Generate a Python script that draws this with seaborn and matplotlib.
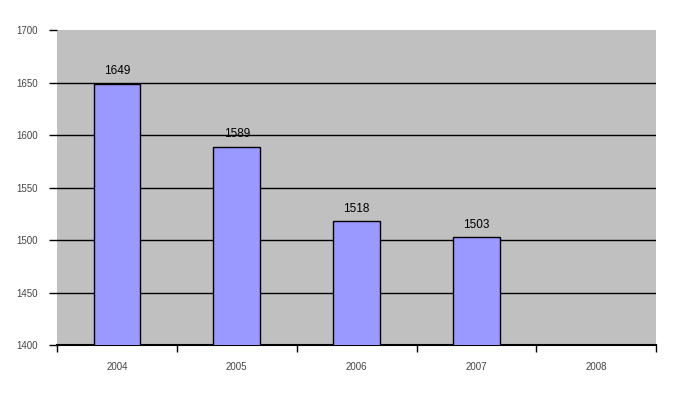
import matplotlib
matplotlib.use("Agg")
import matplotlib.pyplot as plt
import seaborn as sns
import numpy as np

# chart data
years = ["2004", "2005", "2006", "2007", "2008"]
bar_years = ["2004", "2005", "2006", "2007"]
values = [1649, 1589, 1518, 1503]
yticks = [1400, 1450, 1500, 1550, 1600, 1650, 1700]

sns.set_style("white")
plt.rcParams['font.family'] = ['Liberation Sans', 'DejaVu Sans']

fig = plt.figure(figsize=(6.73, 3.97), dpi=100)
ax = fig.add_axes([0.0847, 0.131, 0.8903, 0.793])
ax.set_facecolor("#c0c0c0")

sns.barplot(x=bar_years, y=values, order=years, ax=ax, color="#9999ff",
            saturation=1, width=0.39, edgecolor="black", linewidth=1, zorder=3)

ax.set_ylim(1400, 1700)
ax.set_yticks(yticks)
ax.set_yticklabels([str(t) for t in yticks], fontsize=7, color="#444444")
for t in yticks[1:-1]:
    ax.axhline(t, color="black", linewidth=1, zorder=1)

# category labels centred, tick marks between categories
ax.set_xlim(-0.5, 4.5)
ax.set_xticks(np.arange(len(years)))
ax.set_xticklabels(years, fontsize=7, color="#444444")
ax.tick_params(axis="x", which="major", length=0, pad=12)
ax.set_xticks(np.arange(-0.5, len(years)), minor=True)
ax.tick_params(axis="x", which="minor", bottom=True, length=5, width=1,
               color="black", direction="out")
ax.tick_params(axis="y", length=6, width=1, color="black", direction="out", pad=8, left=True)

for s in ["top", "right"]:
    ax.spines[s].set_visible(False)
ax.spines["left"].set_visible(False)
ax.spines["bottom"].set_color("black")
ax.spines["bottom"].set_linewidth(1.5)
ax.set_xlabel("")
ax.set_ylabel("")

for i, v in enumerate(values):
    ax.text(i, v + 6, str(v), ha="center", va="bottom", fontsize=8.5, color="black")

plt.savefig("out.png", dpi=100)
plt.close(fig)
